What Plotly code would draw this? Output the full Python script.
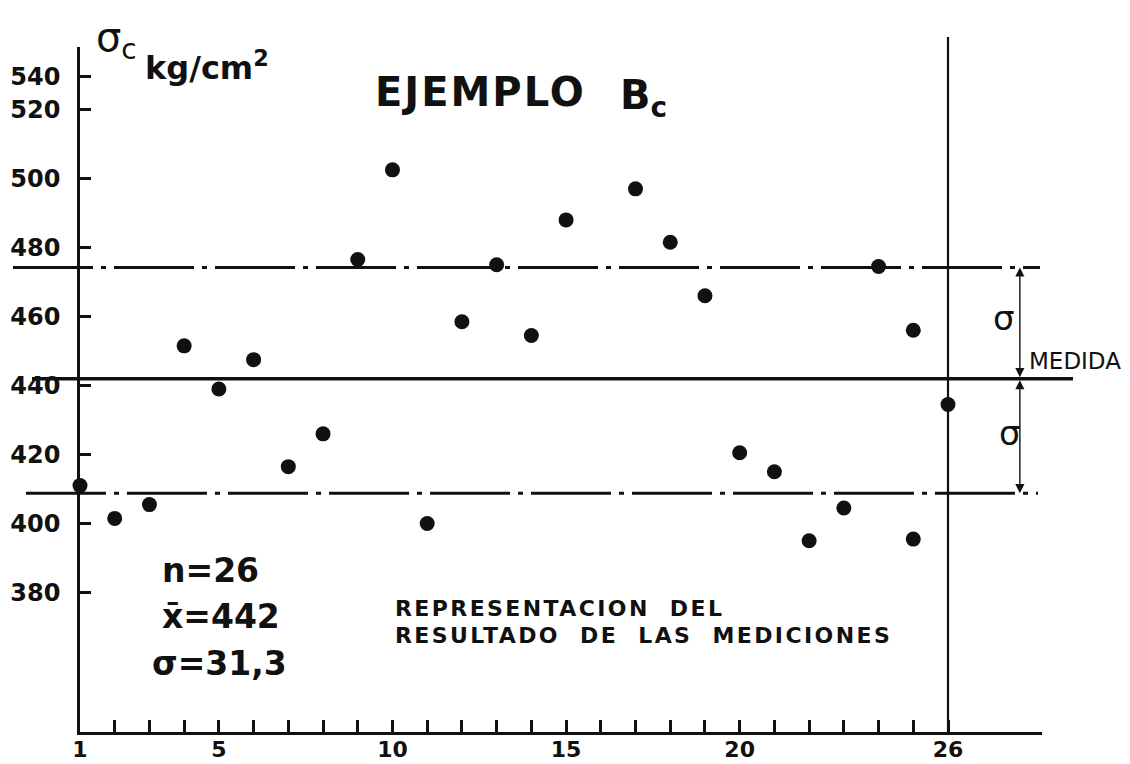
import plotly.graph_objects as go

# ---------------- data ----------------
sample_index = [1, 2, 3, 4, 5, 6, 7, 8, 9, 10, 11, 12, 13, 14, 15,
                17, 18, 19, 20, 21, 22, 23, 24, 25, 25, 26]
strength = [411, 401.5, 405.5, 451.5, 439, 447.5, 416.5, 426, 476.5, 502.5,
            400, 458.5, 475, 454.5, 488, 497, 481.5, 466, 420.5, 415,
            395, 404.5, 474.5, 456, 395.5, 434.5]

mean_line = 442          # "MEDIDA"
upper_line = 474.2       # mean + sigma (as drawn)
lower_line = 408.8       # mean - sigma (as drawn)
last_sample = 26

y_tickvals = [380, 400, 420, 440, 460, 480, 500, 520, 529.5]
y_ticktext = ["380", "400", "420", "440", "460", "480", "500", "520", "540"]
x_tickvals = [1, 5, 10, 15, 20, 26]
x_ticktext = ["1", "5", "10", "15", "20", "26"]
x_minor_ticks = list(range(2, 26))

FONT = "DejaVu Sans"
BLACK = "#111111"

fig = go.Figure()
fig.add_trace(go.Scatter(
    x=sample_index, y=strength, mode="markers",
    marker=dict(size=15, color=BLACK, line=dict(width=0)),
    cliponaxis=False, showlegend=False, hoverinfo="x+y"))

# page geometry (the page body adds an 8px offset)
OFF = 8
W, H = 1130, 764
PL, PR, PT, PB = 80, 1042, 47, 732          # plot area in page pixels
pw, ph = PR - PL, PB - PT
L, T = PL - OFF, PT - OFF
R = W - L - pw
B = H - T - ph


def px(xpix):
    return (xpix - PL) / pw


def py(ypix):
    return (PB - ypix) / ph


shapes = [
    dict(type="line", xref="paper", yref="y", x0=px(32), x1=px(1073),
         y0=mean_line, y1=mean_line, line=dict(color=BLACK, width=3.5)),
    dict(type="line", xref="paper", yref="y", x0=px(13), x1=px(1040),
         y0=upper_line, y1=upper_line,
         line=dict(color=BLACK, width=3, dash="80px,8px,5px,8px")),
    dict(type="line", xref="paper", yref="y", x0=px(26), x1=px(1038),
         y0=lower_line, y1=lower_line,
         line=dict(color=BLACK, width=3, dash="80px,8px,5px,8px")),
    dict(type="line", xref="x", yref="paper", x0=last_sample, x1=last_sample,
         y0=0, y1=py(37), line=dict(color=BLACK, width=2.2)),
]


def text_ann(xpix, ypix, text, size, xanchor="left", bold=False):
    return dict(x=px(xpix), y=py(ypix), xref="paper", yref="paper",
                text=text, xanchor=xanchor, yanchor="middle", showarrow=False,
                font=dict(family=FONT, size=size, color=BLACK,
                          weight="bold" if bold else "normal"))


arrow_x = 28.07
annotations = [
    dict(x=arrow_x, y=upper_line, ax=arrow_x, ay=mean_line, xref="x", yref="y",
         axref="x", ayref="y", showarrow=True, arrowhead=2, startarrowhead=2,
         arrowside="end+start", arrowsize=1.3, startarrowsize=1.3,
         arrowwidth=1.4, arrowcolor=BLACK, text=""),
    dict(x=arrow_x, y=lower_line, ax=arrow_x, ay=mean_line, xref="x", yref="y",
         axref="x", ayref="y", showarrow=True, arrowhead=2, startarrowhead=2,
         arrowside="end+start", arrowsize=1.3, startarrowsize=1.3,
         arrowwidth=1.4, arrowcolor=BLACK, text=""),
    text_ann(1004, 318, "σ", 34, xanchor="center"),
    text_ann(1010, 433, "σ", 34, xanchor="center"),
    text_ann(1027, 361, "MEDIDA", 23),
    # axis unit label
    text_ann(94, 40, "σ<sub>c</sub>", 40),
    text_ann(143, 66, "kg/cm<sup>2</sup>", 32, bold=True),
    # title
    text_ann(373, 92, "<span style='letter-spacing:2px'>EJEMPLO</span>", 40, bold=True),
    text_ann(618, 98, "B<sub>c</sub>", 40, bold=True),
    # statistics
    text_ann(160, 570, "n=26", 33, bold=True),
    text_ann(160, 616, "x\u0304=442", 33, bold=True),
    text_ann(150, 663, "σ=31,3", 33, bold=True),
    # caption
    text_ann(393, 608,
             "<span style='letter-spacing:2.4px'>REPRESENTACION  DEL</span>",
             22, bold=True),
    text_ann(393, 635,
             "<span style='letter-spacing:2.4px'>RESULTADO  DE  LAS  MEDICIONES</span>",
             22, bold=True),
]

fig.update_layout(
    width=W, height=H,
    margin=dict(l=L, r=R, t=T, b=B, pad=0, autoexpand=False),
    paper_bgcolor="white", plot_bgcolor="white",
    font=dict(family=FONT, color=BLACK),
    shapes=shapes, annotations=annotations,
    showlegend=False,
    xaxis=dict(range=[1, 1 + pw / 34.72], showgrid=False, zeroline=False,
               automargin=False,
               showline=True, linecolor=BLACK, linewidth=2.5,
               ticks="inside", ticklen=12, tickwidth=2.5, tickcolor=BLACK,
               tickvals=x_tickvals, ticktext=x_ticktext,
               minor=dict(tickmode="array", tickvals=x_minor_ticks,
                          ticks="inside", ticklen=12, tickwidth=2.5,
                          tickcolor=BLACK, showgrid=False),
               tickfont=dict(family=FONT, size=22, color=BLACK, weight="bold"),
               ticklabelstandoff=-4),
    yaxis=dict(range=[339.6, 538.1], showgrid=False, zeroline=False,
               automargin=False,
               showline=True, linecolor=BLACK, linewidth=2.5,
               ticks="inside", ticklen=11, tickwidth=2.5, tickcolor=BLACK,
               tickvals=y_tickvals, ticktext=y_ticktext,
               tickfont=dict(family=FONT, size=24, color=BLACK, weight="bold"),
               ticklabelstandoff=12),
)

fig.write_html("out.html")
